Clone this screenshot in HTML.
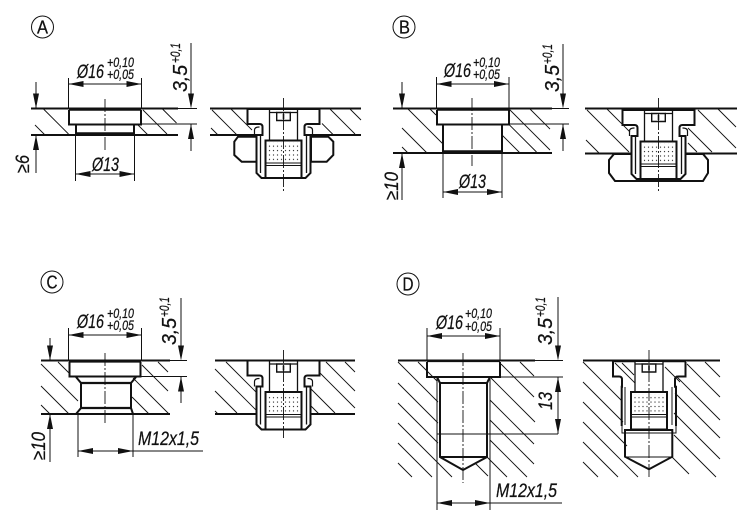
<!DOCTYPE html>
<html><head><meta charset="utf-8"><style>
html,body{margin:0;padding:0;background:#fff}
svg{display:block}
text{font-family:"Liberation Sans",sans-serif;font-style:italic;fill:#111;stroke:#111;stroke-width:.25}
.c{font-style:normal;font-size:18px}
.m{font-size:19px}.s{font-size:14px}.r{font-size:20px}
.h{stroke:#111;stroke-width:.9;fill:none}
.k{stroke:#111;stroke-width:2;fill:none}
.n{stroke:#111;stroke-width:1;fill:none}
.cl{stroke:#111;stroke-width:.9;fill:none;stroke-dasharray:13 2 2 2}
.ar{fill:#111;stroke:none}
</style></head><body>
<svg width="750" height="524" viewBox="0 0 750 524" xmlns="http://www.w3.org/2000/svg" fill="none">
<defs>
<pattern id="d" width="4" height="4.4" patternUnits="userSpaceOnUse"><circle cx="2" cy="2" r=".65" fill="#333"/></pattern>
<g id="core">
<path d="M-14 1V31.5M14 1V31.5" stroke="#111" stroke-width="1.3"/>
<path d="M-14 3.5H-6.8M14 3.5H6.8" stroke="#111" stroke-width="1.2"/>
<path d="M-6.8 3.5V11.5H6.8V3.5Z" stroke="#111" stroke-width="1.4" fill="#fff"/>
<path d="M0 5V10" stroke="#111" stroke-width="1.6"/>
<rect x="-18" y="31.5" width="36" height="37.5" fill="#fff" stroke="#111" stroke-width="2"/>
<rect x="-16.5" y="33.5" width="33" height="20" fill="url(#d)"/>
<path d="M-18 54H18M-18 56.5H18" stroke="#111" stroke-width="1"/>
</g>
<g id="ins">
<path d="M-36 0V15H-24c2 0 3 1 3 3V26H-27V64L-22 69H22L27 64V26H21V18c0-2 1-3 3-3H36V0Z" fill="#fff" stroke="#111" stroke-width="2"/>
<path d="M-23 26V64M23 26V64" stroke="#111" stroke-width="1.3"/>
<path d="M-29 26V21c0-2 2-3 5-3M29 26V21c0-2-2-3-5-3" stroke="#111" stroke-width="1.2"/>
<use href="#core"/>
</g>
</defs>

<!-- A -->
<circle cx="42.5" cy="27" r="11" class="n"/><text class="c" x="37" y="33.5" textLength="11" lengthAdjust="spacingAndGlyphs">A</text>
<path class="h" d="M43.5 109l25 25M35 125l10 10M143 110l24 24M162.5 109l14 14M138 125l10 10"/>
<path class="k" d="M31 108.5H178M31 135H178"/>
<path class="n" d="M178 108.5H197M140 124H197"/>
<path class="k" d="M69 110V124.5H141V110M76 124.5V135M134 124.5V135"/>
<path class="k" d="M76 133.5H134M69 109.5H141" style="stroke-width:2.6"/>
<path class="cl" d="M105 99V150"/>
<path class="n" d="M68.5 78V108M141.5 78V108M75.5 135V181M134.5 135V181"/>
<path class="n" d="M68.5 84H141.5M75.5 174H134.5M191 43V100M191 124V151M36 82V108M36 135V173"/>
<path class="ar" d="M68.5 84l15-3v6ZM141.5 84l-15-3v6ZM75.5 174l15-3v6ZM134.5 174l-15-3v6ZM191 108.5l-3-15h6ZM191 124l-3 15h6ZM36 108.5l-3-15h6ZM36 135l-3 15h6Z"/>
<text class="m" x="77" y="78" textLength="27" lengthAdjust="spacingAndGlyphs">Ø16</text>
<text class="s" x="107" y="67" textLength="27" lengthAdjust="spacingAndGlyphs">+0,10</text>
<text class="s" x="107" y="79" textLength="27" lengthAdjust="spacingAndGlyphs">+0,05</text>
<text class="m" x="92" y="171" textLength="27" lengthAdjust="spacingAndGlyphs">Ø13</text>
<text class="r" transform="translate(187,92) rotate(-90)" textLength="27" lengthAdjust="spacingAndGlyphs">3,5</text>
<text class="s" transform="translate(180,63) rotate(-90)" textLength="20" lengthAdjust="spacingAndGlyphs">+0,1</text>
<text class="m" transform="translate(29,173) rotate(-90)" textLength="18" lengthAdjust="spacingAndGlyphs">≥6</text>
<path class="h" d="M212 110l25 25M231 109l21 21M322 123.5l11.5 11.5M330 109l25 25M350 109l11 11M211 128l7 7"/>
<path class="k" d="M210 108.5H361M210 135H361"/>
<path class="k" fill="#fff" d="M257 136.7H238L234.3 141.7V155L241.7 161.7H257ZM311 136.7H328.3L333.3 141.7V155L326.7 161.7H311Z"/>
<use href="#ins" x="283.5" y="109"/>
<path class="cl" d="M283.5 98V191"/>

<!-- B -->
<circle cx="404" cy="27" r="11" class="n"/><text class="c" x="399" y="33.5" textLength="11" lengthAdjust="spacingAndGlyphs">B</text>
<path class="h" d="M408 109l35 35M430 109l6 6M402 128l25 25M402 147l6 6M509 109l41 41M530 109l20 20M502 135l18 18M508.5 124l28 28"/>
<path class="k" d="M393 108.5H552M393 153H552"/>
<path class="n" d="M552 108.5H569M508 124H569"/>
<path class="k" d="M437 110V124.5H509V110M443 124.5V153M502 124.5V153"/>
<path class="k" d="M437 109.5H509M443 151.5H502" style="stroke-width:2.6"/>
<path class="cl" d="M472 98V166"/>
<path class="n" d="M436.5 77V108M509 77V108M443 153V198M502 153V198"/>
<path class="n" d="M436.5 84H509M443 192H502M563 44V100M563 124V151M402 82V108M402 153V200"/>
<path class="ar" d="M436.5 84l15-3v6ZM509 84l-15-3v6ZM443 192l15-3v6ZM502 192l-15-3v6ZM563 108.5l-3-15h6ZM563 124l-3 15h6ZM402 108.5l-3-15h6ZM402 153l-3 15h6Z"/>
<text class="m" x="444" y="77" textLength="27" lengthAdjust="spacingAndGlyphs">Ø16</text>
<text class="s" x="473" y="67" textLength="27" lengthAdjust="spacingAndGlyphs">+0,10</text>
<text class="s" x="473" y="79" textLength="27" lengthAdjust="spacingAndGlyphs">+0,05</text>
<text class="m" x="459" y="188" textLength="27" lengthAdjust="spacingAndGlyphs">Ø13</text>
<text class="r" transform="translate(559,92) rotate(-90)" textLength="27" lengthAdjust="spacingAndGlyphs">3,5</text>
<text class="s" transform="translate(552,64) rotate(-90)" textLength="20" lengthAdjust="spacingAndGlyphs">+0,1</text>
<text class="m" transform="translate(398,200) rotate(-90)" textLength="28" lengthAdjust="spacingAndGlyphs">≥10</text>
<path class="h" d="M587 110l42 42M607 109l23 23M586 140l13 13M698 110l38 38M718 109l18 18M688 128l24 24M688 143l9 9"/>
<path class="k" d="M585 108.5H737M585 153.5H737"/>
<path class="k" fill="#fff" d="M632 154H614L609 160V173L615 181H703L708 173V160L703 154H685Z"/>
<use href="#ins" x="658.5" y="110"/>
<path class="cl" d="M658.5 98V191"/>

<!-- C -->
<circle cx="52" cy="282" r="11" class="n"/><text class="c" x="46.5" y="288.5" textLength="11" lengthAdjust="spacingAndGlyphs">C</text>
<path class="h" d="M58 362l11 11M41 364l37 37M41 386l28 28M41 405l9 9M142 365l26 26M158 362l10 10M133 378l36 36M132 397l17 17"/>
<path class="k" d="M41 360.5H170M41 414H170"/>
<path class="n" d="M170 360.5H187M141 376.5H187"/>
<path class="k" d="M69.5 362V376.5H140.5V362M76 377L81 383V408L76 414M136 377L131 383V408L133 414"/>
<path class="k" d="M81 383H131M81 408H131" style="stroke-width:2.3"/>
<path class="k" d="M69 361.5H141" style="stroke-width:2.3"/>
<path class="cl" d="M105 353V423"/>
<path class="n" d="M68.5 328V360M141.5 328V360M78 414V457M133 414V457"/>
<path class="n" d="M68.5 335H141.5M78 451H203M181 298V352M181 376.5V403M50 338V360M50 414V462"/>
<path class="ar" d="M68.5 335l15-3v6ZM141.5 335l-15-3v6ZM78 451l15-3v6ZM133 451l-15-3v6ZM181 360.5l-3-15h6ZM181 376.5l-3 15h6ZM50 360.5l-3-15h6ZM50 414l-3 15h6Z"/>
<text class="m" x="77" y="328" textLength="27" lengthAdjust="spacingAndGlyphs">Ø16</text>
<text class="s" x="107" y="318" textLength="27" lengthAdjust="spacingAndGlyphs">+0,10</text>
<text class="s" x="107" y="330" textLength="27" lengthAdjust="spacingAndGlyphs">+0,05</text>
<text class="m" x="138" y="445" textLength="61" lengthAdjust="spacingAndGlyphs">M12x1,5</text>
<text class="r" transform="translate(176,345) rotate(-90)" textLength="27" lengthAdjust="spacingAndGlyphs">3,5</text>
<text class="s" transform="translate(169,317) rotate(-90)" textLength="20" lengthAdjust="spacingAndGlyphs">+0,1</text>
<text class="m" transform="translate(45,460) rotate(-90)" textLength="28" lengthAdjust="spacingAndGlyphs">≥10</text>
<path class="h" d="M226 362l30 30M215 369l42 42M215 391l22 22M215 411l3 3M326 362l29 29M345 362l10 10M319 372l36 36M310 388l25 25M310 405l9 9"/>
<path class="k" d="M215 360.5H355M215 414H355"/>
<use href="#ins" x="283.5" y="360.5"/>
<path class="cl" d="M283.5 350V438"/>

<!-- D -->
<circle cx="408" cy="284" r="11" class="n"/><text class="c" x="402.5" y="290.5" textLength="11" lengthAdjust="spacingAndGlyphs">D</text>
<path class="h" d="M418 362l19 19M398 362l40 40M398 383l40 40M398 403l40 40M398 423l54 54M398 443l34 34M398 463l14 14M501 364l33 33M491 378l44 44M490 400l44 44M490 420l44 44M490 440l37 37M487 457l20 20M475 463l13 13M520 362l14 14"/>
<path class="k" d="M398 360.5H535"/>
<path class="n" d="M535 360.5H563M500 377H563M437 434H558M437 377V457M490 377V457"/>
<path class="k" d="M427 362V377H500V362M437 377L440 383V457L463 470L487 457V383L490 377M440 383H487M440 457H487" />
<path class="k" d="M427 361H500" style="stroke-width:2.3"/>
<path class="cl" d="M463 353V483"/>
<path class="n" d="M427 328V360M500 328V360M437 457V510M490 457V510"/>
<path class="n" d="M427 336H500M437 503H562M558 297V352M558 377V434"/>
<path class="ar" d="M427 336l15-3v6ZM500 336l-15-3v6ZM437 503l15-3v6ZM490 503l-15-3v6ZM558 360.5l-3-15h6ZM558 377l-3 15h6ZM558 434l-3-15h6Z"/>
<text class="m" x="436" y="329" textLength="27" lengthAdjust="spacingAndGlyphs">Ø16</text>
<text class="s" x="465" y="318" textLength="27" lengthAdjust="spacingAndGlyphs">+0,10</text>
<text class="s" x="465" y="331" textLength="27" lengthAdjust="spacingAndGlyphs">+0,05</text>
<text class="m" x="496" y="497" textLength="61" lengthAdjust="spacingAndGlyphs">M12x1,5</text>
<text class="r" transform="translate(552,345) rotate(-90)" textLength="27" lengthAdjust="spacingAndGlyphs">3,5</text>
<text class="s" transform="translate(545,317) rotate(-90)" textLength="20" lengthAdjust="spacingAndGlyphs">+0,1</text>
<text class="m" transform="translate(552,410) rotate(-90)" textLength="18" lengthAdjust="spacingAndGlyphs">13</text>
<path class="h" d="M583 362l39 39M583 382l40 40M583 402l44 44M583 422l55 55M583 442l35 35M583 462l15 15M705 362l15 15M687 364l33 33M676 376l44 44M675 393l45 45M674 413l46 46M674 435l42 42M672 457l17 17M615 363l20 20M622 363l12 12M665 367l15 15"/>
<path class="k" d="M583 360.5H720"/>
<path class="k" d="M613 362V376.5H619c2 0 3 1 3 3V386.7H621.7V426M676 426V386.7H675V379.5c0-2 1-3 3-3H685.5V362"/>
<path class="n" d="M622 426V433H676V426"/>
<path class="k" d="M612 361H686" style="stroke-width:2.6"/>
<path class="n" d="M625 387V425M672 387V425"/>
<path d="M635 362H663V391.5H635Z" fill="#fff"/>
<use href="#core" x="649" y="360.5"/>
<path class="k" fill="#fff" d="M625 430H672.3V456.7L649 469.3L625 456.7Z"/>
<path class="n" d="M625 457H672"/>
<path class="cl" d="M649 350V477"/>
</svg>
</body></html>
